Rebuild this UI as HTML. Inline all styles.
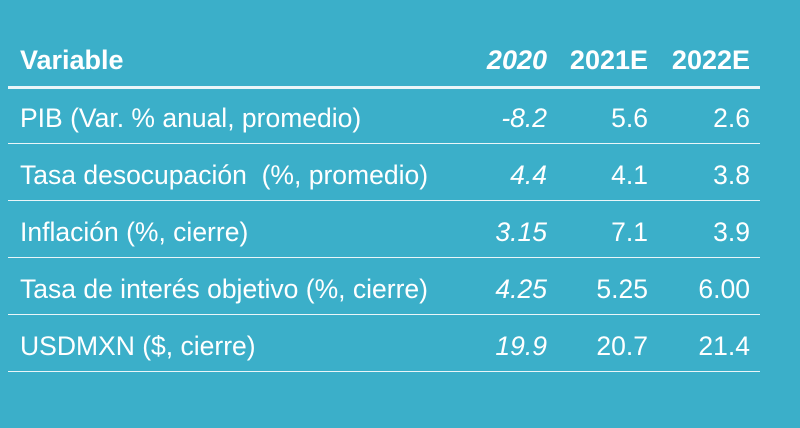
<!DOCTYPE html>
<html><head><meta charset="utf-8"><style>
body{margin:0;width:800px;height:428px;background:#3BAFC9;overflow:hidden;font-family:"Liberation Sans",sans-serif;color:#fff;}
.t{position:absolute;left:0;top:0;width:800px;height:428px;}
.row{position:absolute;left:0;width:800px;height:40px;}
.c{position:absolute;white-space:nowrap;font-size:26.5px;line-height:40px;}
.l{left:20px;}
.v1{right:253px;font-style:italic;}
.v2{right:152px;}
.v3{right:50px;}
.hd .c{font-weight:bold;font-size:27px;}
.line{position:absolute;left:8px;width:752px;height:1px;background:#eaf6f9;}
</style></head><body>
<div class="t">
<div class="row hd" style="top:40px">
<span class="c l">Variable</span>
<span class="c v1">2020</span>
<span class="c v2">2021E</span>
<span class="c v3">2022E</span>
</div>
<div class="line" style="top:86px;height:3px"></div>

<div class="row" style="top:98px">
<span class="c l">PIB (Var. % anual, promedio)</span>
<span class="c v1">-8.2</span>
<span class="c v2">5.6</span>
<span class="c v3">2.6</span>
</div>
<div class="line" style="top:143px"></div>

<div class="row" style="top:155px">
<span class="c l">Tasa desocupación&nbsp; (%, promedio)</span>
<span class="c v1">4.4</span>
<span class="c v2">4.1</span>
<span class="c v3">3.8</span>
</div>
<div class="line" style="top:200px"></div>

<div class="row" style="top:212px">
<span class="c l">Inflación (%, cierre)</span>
<span class="c v1">3.15</span>
<span class="c v2">7.1</span>
<span class="c v3">3.9</span>
</div>
<div class="line" style="top:257px"></div>

<div class="row" style="top:269px">
<span class="c l">Tasa de interés objetivo (%, cierre)</span>
<span class="c v1">4.25</span>
<span class="c v2">5.25</span>
<span class="c v3">6.00</span>
</div>
<div class="line" style="top:314px"></div>

<div class="row" style="top:326px">
<span class="c l">USDMXN ($, cierre)</span>
<span class="c v1">19.9</span>
<span class="c v2">20.7</span>
<span class="c v3">21.4</span>
</div>
<div class="line" style="top:371px"></div>
</div>
</body></html>
